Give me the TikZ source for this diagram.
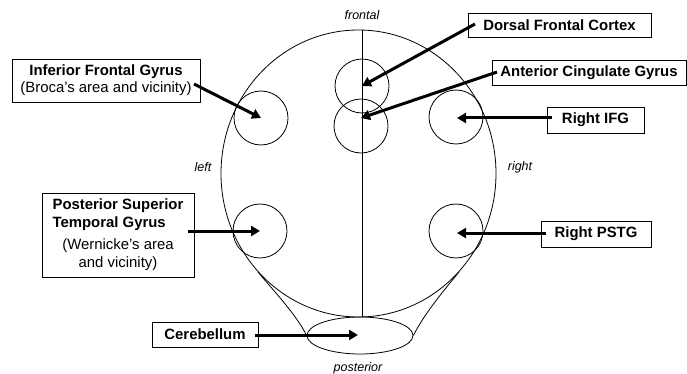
\documentclass[tikz,border=0pt]{standalone}
\usepackage{fontspec}
\setmainfont{Liberation Sans}
\usetikzlibrary{arrows.meta,shapes.geometric}
\begin{document}
\begin{tikzpicture}[x=1pt,y=-1pt,
  outline/.style={line width=0.8pt},
  lbox/.style={draw, line width=0.9pt, fill=white, inner sep=0pt, font=\fontsize{14.9}{17}\selectfont, align=center},
  region/.style={draw, circle, line width=0.8pt, minimum size=54pt, inner sep=0pt},
  pointer/.style={line width=3pt, -{Triangle[length=9pt,width=10pt]}},
  dirlabel/.style={font=\fontsize{12.5}{14}\selectfont\itshape, inner sep=0pt}]
\useasboundingbox (0,0) rectangle (687,374);

% head outline
\draw[outline] (358.5,173.5) ellipse [x radius=137.5pt, y radius=143.5pt];
\coordinate (top) at (362,30);
\coordinate (bot) at (362,317);
\draw[outline] (top) -- (bot);
\node[draw, ellipse, line width=0.8pt, minimum width=106pt, minimum height=37pt, inner sep=0pt] (cCB) at (360,335.5) {};
\coordinate (splitL) at (258,272);
\coordinate (splitR) at (459,272);
\draw[outline] (splitL) .. controls (272,289) and (296,314) .. (cCB.west);
\draw[outline] (splitR) .. controls (445,289) and (424,314) .. (cCB.east);

% regions
\node[region] (cIFG) at (261,118) {};
\node[region] (cDFC) at (362,86) {};
\node[region] (cACG) at (361,126) {};
\node[region] (cRIFG) at (456,117) {};
\node[region] (cPSTG) at (260,231) {};
\node[region] (cRPSTG) at (456,231) {};

% direction labels
\node[dirlabel] (lfront) at (362,15) {frontal};
\node[dirlabel] (lleft) at (203,167) {left};
\node[dirlabel] (lright) at (520,167) {right};
\node[dirlabel] (lpost) at (358,368) {posterior};

% label boxes
\node[lbox, minimum width=188pt, minimum height=43pt] (bIFG) at (106,80.5)
  {\textbf{Inferior Frontal Gyrus}\\(Broca's area and vicinity)};
\node[lbox, minimum width=183pt, minimum height=24pt] (bDFC) at (559.5,25) {\textbf{Dorsal Frontal Cortex}};
\node[lbox, minimum width=194pt, minimum height=25pt] (bACG) at (589,72.5) {\textbf{Anterior Cingulate Gyrus}};
\node[lbox, minimum width=97pt, minimum height=26pt] (bRIFG) at (595.5,120) {\textbf{Right IFG}};
\node[lbox, minimum width=110pt, minimum height=26pt] (bRPSTG) at (596,234) {\textbf{Right PSTG}};
\node[lbox, minimum width=152pt, minimum height=84pt] (bPSTG) at (118,235)
  {\fontsize{14.9}{18}\selectfont\begin{tabular}{@{}l@{}}\textbf{Posterior Superior}\\\textbf{Temporal Gyrus}\\[4pt]
   \multicolumn{1}{@{}c@{}}{(Wernicke's area}\\\multicolumn{1}{@{}c@{}}{and vicinity)}\end{tabular}};
\node[lbox, minimum width=106pt, minimum height=25pt] (bCB) at (205,334.5) {\textbf{Cerebellum}};

% pointers
\coordinate (sIFG) at (194,84);
\coordinate (sDFC) at (475,24);
\coordinate (sACG) at (497,72);
\coordinate (tACG) at (361,118);
\coordinate (sRIFG) at (552,118);
\coordinate (tRIFG) at (457,118);
\coordinate (sPSTG) at (188,231);
\coordinate (sRPSTG) at (546,233);
\coordinate (tRPSTG) at (457,233);
\coordinate (sCB) at (255,335);
\coordinate (tCB) at (358,335);
\draw[pointer] (sIFG) -- (cIFG.center);
\draw[pointer] (sDFC) -- (cDFC.center);
\draw[pointer] (sACG) -- (tACG);
\draw[pointer] (sRIFG) -- (tRIFG);
\draw[pointer] (sPSTG) -- (cPSTG.center);
\draw[pointer] (sRPSTG) -- (tRPSTG);
\draw[pointer] (sCB) -- (tCB);
\end{tikzpicture}
\end{document}
